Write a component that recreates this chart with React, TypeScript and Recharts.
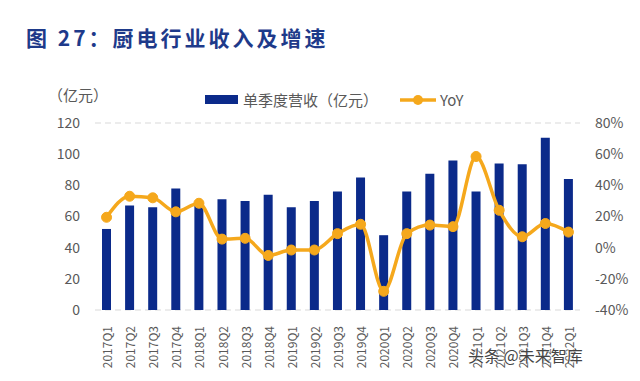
import { Bar, CartesianGrid, ComposedChart, Line, XAxis, YAxis } from 'recharts'

const quarters = [
  '2017Q1', '2017Q2', '2017Q3', '2017Q4', '2018Q1', '2018Q2', '2018Q3', '2018Q4',
  '2019Q1', '2019Q2', '2019Q3', '2019Q4', '2020Q1', '2020Q2', '2020Q3', '2020Q4',
  '2021Q1', '2021Q2', '2021Q3', '2021Q4', '2022Q1',
]
const revenue = [52, 67, 66, 78, 67, 71, 70, 74, 66, 70, 76, 85, 48, 76, 87.5, 96, 76, 94, 93.5, 110.5, 84]
const yoy = [19.5, 33, 32, 23, 28.5, 5.5, 6, -5, -1.5, -1.5, 9, 15, -28, 9, 14.5, 13.5, 58.5, 24, 7, 15.5, 10]
const leftTicks = [0, 20, 40, 60, 80, 100, 120]
const rightTicks = [-40, -20, 0, 20, 40, 60, 80]

const BLUE = '#0B2A8A'
const ORANGE = '#F5A81C'
const GREY = '#595959'
const FONT = "'Noto Sans CJK SC', 'Noto Sans', sans-serif"

const data = quarters.map((q, i) => ({ q, revenue: revenue[i], yoy: yoy[i] }))

function XTick({ x, y, payload }: any) {
  return (
    <text
      transform={`translate(${x},${y + 8}) rotate(-90)`}
      textAnchor="end"
      dominantBaseline="central"
      fontSize={12}
      fill={GREY}
      fontFamily={FONT}
    >
      {payload.value}
    </text>
  )
}

export default function App() {
  return (
    <div style={{ position: 'absolute', left: 0, top: 0, width: 640, height: 381, background: '#fff', fontFamily: FONT }}>
      <div
        style={{
          position: 'absolute', left: 26, top: 22, fontSize: 21, fontWeight: 700,
          color: '#1E3A8A', letterSpacing: 3, whiteSpace: 'nowrap',
        }}
      >
        图 27：厨电行业收入及增速
      </div>
      <div style={{ position: 'absolute', left: 48, top: 84, fontSize: 15, color: GREY }}>（亿元）</div>
      <div
        style={{
          position: 'absolute', left: 205, top: 89, display: 'flex', alignItems: 'center',
          fontSize: 15, color: GREY, whiteSpace: 'nowrap',
        }}
      >
        <span style={{ display: 'inline-block', width: 33, height: 9, background: BLUE, marginRight: 5 }} />
        <span>单季度营收（亿元）</span>
        <svg width={36} height={12} style={{ marginLeft: 22, marginRight: 4 }}>
          <line x1={0} y1={6} x2={36} y2={6} stroke={ORANGE} strokeWidth={3.5} />
          <circle cx={18} cy={6} r={5} fill={ORANGE} />
        </svg>
        <span>YoY</span>
      </div>
      <ComposedChart width={640} height={381} data={data} margin={{ top: 123, right: 0, bottom: 0, left: 0 }}>
        <CartesianGrid vertical={false} stroke="#D9D9D9" strokeDasharray="6 4" />
        <XAxis dataKey="q" height={71} axisLine={false} tickLine={false} interval={0} tick={<XTick />} />
        <YAxis
          yAxisId="l"
          width={95}
          domain={[0, 120]}
          ticks={leftTicks}
          axisLine={false}
          tickLine={false}
          tickSize={0}
          tickMargin={15}
          tick={{ fill: GREY, fontSize: 14, fontFamily: FONT }}
        />
        <YAxis
          yAxisId="r"
          orientation="right"
          width={60}
          domain={[-40, 80]}
          ticks={rightTicks}
          tickFormatter={(v: number) => `${v}%`}
          axisLine={false}
          tickLine={false}
          tickSize={0}
          tickMargin={15}
          tick={{ fill: GREY, fontSize: 14, fontFamily: FONT }}
        />
        <Bar yAxisId="l" dataKey="revenue" fill={BLUE} barSize={9} isAnimationActive={false} />
        <Line
          yAxisId="r"
          dataKey="yoy"
          type="monotone"
          stroke={ORANGE}
          strokeWidth={3.5}
          dot={{ r: 5, fill: ORANGE, stroke: ORANGE, strokeWidth: 1 }}
          isAnimationActive={false}
        />
      </ComposedChart>
      <div
        style={{
          position: 'absolute', left: 468, top: 343, fontSize: 16, color: '#444',
          textShadow: '0 0 2px #fff, 0 0 2px #fff', whiteSpace: 'nowrap',
        }}
      >
        头条 @未来智库
      </div>
    </div>
  )
}
